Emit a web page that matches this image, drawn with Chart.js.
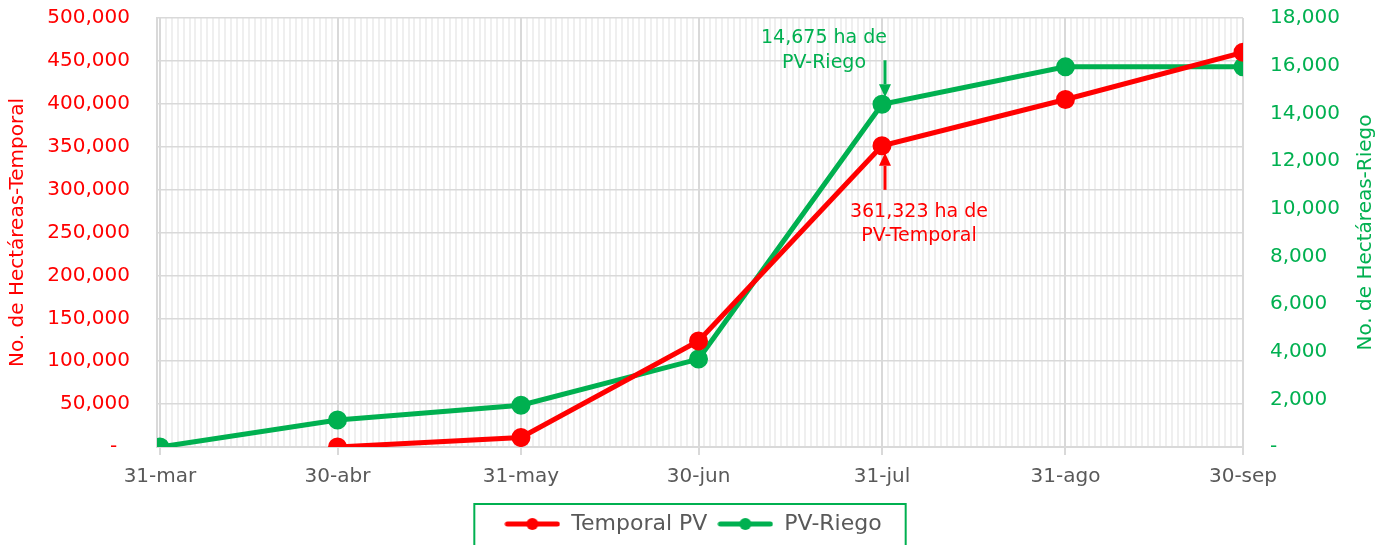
<!DOCTYPE html>
<html lang="es">
<head>
<meta charset="utf-8">
<title>Avance de siembra PV</title>
<script src="https://cdn.jsdelivr.net/npm/chart.js@4.4.1/dist/chart.umd.min.js"></script>
<style>
  html, body { margin: 0; padding: 0; background: #fff; overflow: hidden; }
</style>
</head>
<body>
<canvas id="chart" width="1386" height="545"></canvas>
<script>
// fechas de corte (dias desde 31-mar) y sus etiquetas
const dayOffsets = [0, 30, 61, 91, 122, 153, 183];
const dateLabels = ["31-mar", "30-abr", "31-may", "30-jun", "31-jul", "31-ago", "30-sep"];

// hectareas acumuladas
const temporalPV = [null, 0, 11000, 123500, 351000, 405000, 460000];
const riegoPV = [0, 1130, 1750, 3690, 14380, 15950, 15950];

const leftTicks = { min: 0, max: 500000, step: 50000 };
const rightTicks = { min: 0, max: 18000, step: 2000 };

const riegoNote = ["14,675 ha de", "PV-Riego"];
const temporalNote = ["361,323 ha de", "PV-Temporal"];
const noteIndex = dateLabels.indexOf("31-jul");

const RED = "#ff0000";
const GREEN = "#00b050";
const GRAY_TEXT = "#595959";
const FONT = "'DejaVu Sans', sans-serif";

const fmt = v => v === 0 ? "-  " : v.toLocaleString("en-US");

function legendMarker(color) {
    const c = document.createElement("canvas");
    c.width = 56;
    c.height = 14;
    const x = c.getContext("2d");
    x.strokeStyle = color;
    x.lineWidth = 5;
    x.lineCap = "round";
    x.beginPath();
    x.moveTo(3, 7);
    x.lineTo(53, 7);
    x.stroke();
    x.fillStyle = color;
    x.beginPath();
    x.arc(28, 7, 6, 0, Math.PI * 2);
    x.fill();
    return c;
}
const markers = [legendMarker(RED), legendMarker(GREEN)];

function drawArrow(ctx, x, fromY, tipY, color) {
    const dir = tipY > fromY ? 1 : -1;
    const head = 13;
    ctx.strokeStyle = color;
    ctx.fillStyle = color;
    ctx.lineWidth = 3;
    ctx.beginPath();
    ctx.moveTo(x, fromY);
    ctx.lineTo(x, tipY - dir * head);
    ctx.stroke();
    ctx.beginPath();
    ctx.moveTo(x, tipY);
    ctx.lineTo(x - 6, tipY - dir * head);
    ctx.lineTo(x + 6, tipY - dir * head);
    ctx.closePath();
    ctx.fill();
}

const calloutPlugin = {
    id: "callouts",
    afterDatasetsDraw(chart) {
        const { ctx } = chart;
        const r = chart.getDatasetMeta(0).data[noteIndex];
        const g = chart.getDatasetMeta(1).data[noteIndex];
        ctx.save();
        ctx.font = "19px " + FONT;
        ctx.textAlign = "center";
        ctx.textBaseline = "middle";

        ctx.fillStyle = GREEN;
        ctx.fillText(riegoNote[0], g.x - 58, g.y - 66);
        ctx.fillText(riegoNote[1], g.x - 58, g.y - 41);
        drawArrow(ctx, g.x + 3, g.y - 44, g.y - 7, GREEN);

        ctx.fillStyle = RED;
        ctx.fillText(temporalNote[0], r.x + 37, r.y + 66);
        ctx.fillText(temporalNote[1], r.x + 37, r.y + 90);
        drawArrow(ctx, r.x + 3, r.y + 44, r.y + 7, RED);
        ctx.restore();
    }
};

const framePlugin = {
    id: "frames",
    afterDraw(chart) {
        const { ctx, chartArea } = chart;
        ctx.save();
        // titulo del eje derecho, leido de abajo hacia arriba
        ctx.translate(1366, (chartArea.top + chartArea.bottom) / 2);
        ctx.rotate(-Math.PI / 2);
        ctx.font = "20px " + FONT;
        ctx.fillStyle = GREEN;
        ctx.textAlign = "center";
        ctx.textBaseline = "middle";
        ctx.fillText("No. de Hectáreas-Riego", 0, 0);
        ctx.restore();

        // marco de la leyenda
        const lg = chart.legend;
        const boxes = lg && lg.legendHitBoxes;
        if (!boxes || !boxes.length) return;
        const last = boxes[boxes.length - 1];
        const left = boxes[0].left - 30;
        const right = last.left + last.width + 24;
        ctx.save();
        ctx.strokeStyle = GREEN;
        ctx.lineWidth = 2;
        ctx.strokeRect(left, lg.top + 1, right - left, chart.height);
        ctx.restore();
    }
};

const isMonth = v => dayOffsets.includes(v);

// los ejes y no deben empujar el area del grafico
function fixY(width) {
    return scale => {
        scale.width = width;
        scale.paddingTop = 0;
        scale.paddingBottom = 0;
    };
}

new Chart(document.getElementById("chart"), {
    type: "line",
    data: {
        datasets: [
            {
                label: "Temporal PV",
                data: dayOffsets.map((d, i) => ({ x: d, y: temporalPV[i] })),
                yAxisID: "yLeft",
                borderColor: RED,
                backgroundColor: RED,
                borderWidth: 5,
                pointRadius: 7,
                pointHoverRadius: 7,
                tension: 0
            },
            {
                label: "PV-Riego",
                data: dayOffsets.map((d, i) => ({ x: d, y: riegoPV[i] })),
                yAxisID: "yRight",
                borderColor: GREEN,
                backgroundColor: GREEN,
                borderWidth: 5,
                pointRadius: 7,
                pointHoverRadius: 7,
                tension: 0
            }
        ]
    },
    options: {
        responsive: false,
        animation: false,
        layout: { padding: { top: 18, left: 0, right: 0, bottom: 0 } },
        plugins: {
            tooltip: { enabled: false },
            legend: {
                position: "bottom",
                labels: {
                    color: GRAY_TEXT,
                    font: { family: FONT, size: 22 },
                    usePointStyle: true,
                    pointStyleWidth: 56,
                    padding: 10,
                    generateLabels(chart) {
                        const items = Chart.defaults.plugins.legend.labels.generateLabels(chart);
                        items.forEach((it, i) => { it.pointStyle = markers[i]; });
                        return items;
                    }
                }
            }
        },
        scales: {
            x: {
                type: "linear",
                min: -0.5,
                max: dayOffsets[dayOffsets.length - 1],
                afterBuildTicks(scale) {
                    const ticks = [];
                    for (let d = 0; d <= dayOffsets[dayOffsets.length - 1]; d++) ticks.push({ value: d });
                    scale.ticks = ticks;
                },
                afterFit(scale) { scale.height = 56; },
                ticks: {
                    autoSkip: false,
                    maxRotation: 0,
                    minRotation: 0,
                    padding: 10,
                    color: GRAY_TEXT,
                    font: { family: FONT, size: 20 },
                    callback: v => {
                        const i = dayOffsets.indexOf(v);
                        return i >= 0 ? dateLabels[i] : "";
                    }
                },
                grid: {
                    color: c => c.tick && isMonth(c.tick.value) ? "#d9d9d9" : "#efefef",
                    lineWidth: 2,
                    tickLength: 8,
                    tickColor: c => c.tick && isMonth(c.tick.value) ? "#d9d9d9" : "rgba(0,0,0,0)"
                },
                border: { display: true, color: "#d9d9d9", width: 2 }
            },
            yLeft: {
                type: "linear",
                position: "left",
                z: -1,
                min: leftTicks.min,
                max: leftTicks.max,
                afterFit: fixY(157),
                ticks: {
                    stepSize: leftTicks.step,
                    padding: 27,
                    color: RED,
                    font: { family: FONT, size: 20 },
                    callback: fmt
                },
                grid: { color: "#d9d9d9", lineWidth: 1.5, drawTicks: false },
                border: { display: true, color: "#d9d9d9", width: 2 },
                title: {
                    display: true,
                    text: "No. de Hectáreas-Temporal",
                    color: RED,
                    font: { family: FONT, size: 20 },
                    padding: { top: 6, bottom: 0 }
                }
            },
            yRight: {
                type: "linear",
                position: "right",
                min: rightTicks.min,
                max: rightTicks.max,
                afterFit: fixY(143),
                ticks: {
                    stepSize: rightTicks.step,
                    padding: 27,
                    color: GREEN,
                    font: { family: FONT, size: 20 },
                    callback: v => v === 0 ? "-" : v.toLocaleString("en-US")
                },
                grid: { drawOnChartArea: false, drawTicks: false },
                border: { display: false }
            }
        }
    },
    plugins: [calloutPlugin, framePlugin]
});
</script>
</body>
</html>
